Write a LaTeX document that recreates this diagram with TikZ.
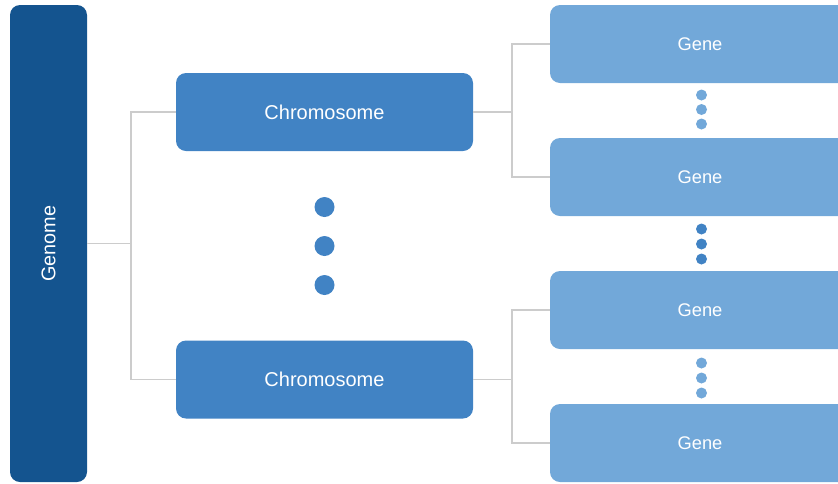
\documentclass[tikz,border=0pt]{standalone}
\usepackage{fontspec}
\setmainfont{Liberation Sans}
\definecolor{genomec}{HTML}{14548F}
\definecolor{chromc}{HTML}{4183C4}
\definecolor{genec}{HTML}{72A8D9}
\definecolor{linec}{HTML}{CCCCCC}
\begin{document}
\begin{tikzpicture}[x=1pt,y=-1pt,
  box/.style={rounded corners=10pt, inner sep=0pt, outer sep=0pt, text=white, draw=none},
  genomebox/.style={box, fill=genomec, minimum width=77pt, minimum height=477pt, font=\fontsize{19.8}{22}\selectfont},
  chrombox/.style={box, fill=chromc, minimum width=297pt, minimum height=78pt, font=\fontsize{20}{22}\selectfont},
  genebox/.style={box, fill=genec, minimum width=300pt, minimum height=78pt, font=\fontsize{18.3}{21}\selectfont},
  conn/.style={draw=linec, line width=1.3pt},
  bigdot/.style={fill=chromc},
  smalldot/.style={fill=genec},
  middot/.style={fill=chromc}
]
\useasboundingbox (0,0) rectangle (838,483);
\clip (0,0) rectangle (838,483);
\node[genomebox] (genome) at (48.5,243.5) {\rotatebox{90}{Genome}};
\node[chrombox] (c1) at (324.5,112) {Chromosome};
\node[chrombox] (c2) at (324.5,379.5) {Chromosome};
\node[genebox] (g1) at (700,44) {Gene};
\node[genebox] (g2) at (700,177) {Gene};
\node[genebox] (g3) at (700,310) {Gene};
\node[genebox] (g4) at (700,443) {Gene};
\coordinate (j1) at (131,243.5);
\coordinate (j2) at (512,112);
\coordinate (j3) at (512,379.5);
\draw[conn] (genome.east) -- (j1);
\draw[conn] (j1) |- (c1.west);
\draw[conn] (j1) |- (c2.west);
\draw[conn] (c1.east) -- (j2);
\draw[conn] (j2) |- (g1.west);
\draw[conn] (j2) |- (g2.west);
\draw[conn] (c2.east) -- (j3);
\draw[conn] (j3) |- (g3.west);
\draw[conn] (j3) |- (g4.west);
\foreach \y in {207,246,285} \fill[bigdot] (324.5,\y) circle (10pt);
\foreach \y in {95,109.5,124} \fill[smalldot] (701.5,\y) circle (5.5pt);
\foreach \y in {229,244,259} \fill[middot] (701.5,\y) circle (5.5pt);
\foreach \y in {363,378,393} \fill[smalldot] (701.5,\y) circle (5.5pt);
\end{tikzpicture}
\end{document}
